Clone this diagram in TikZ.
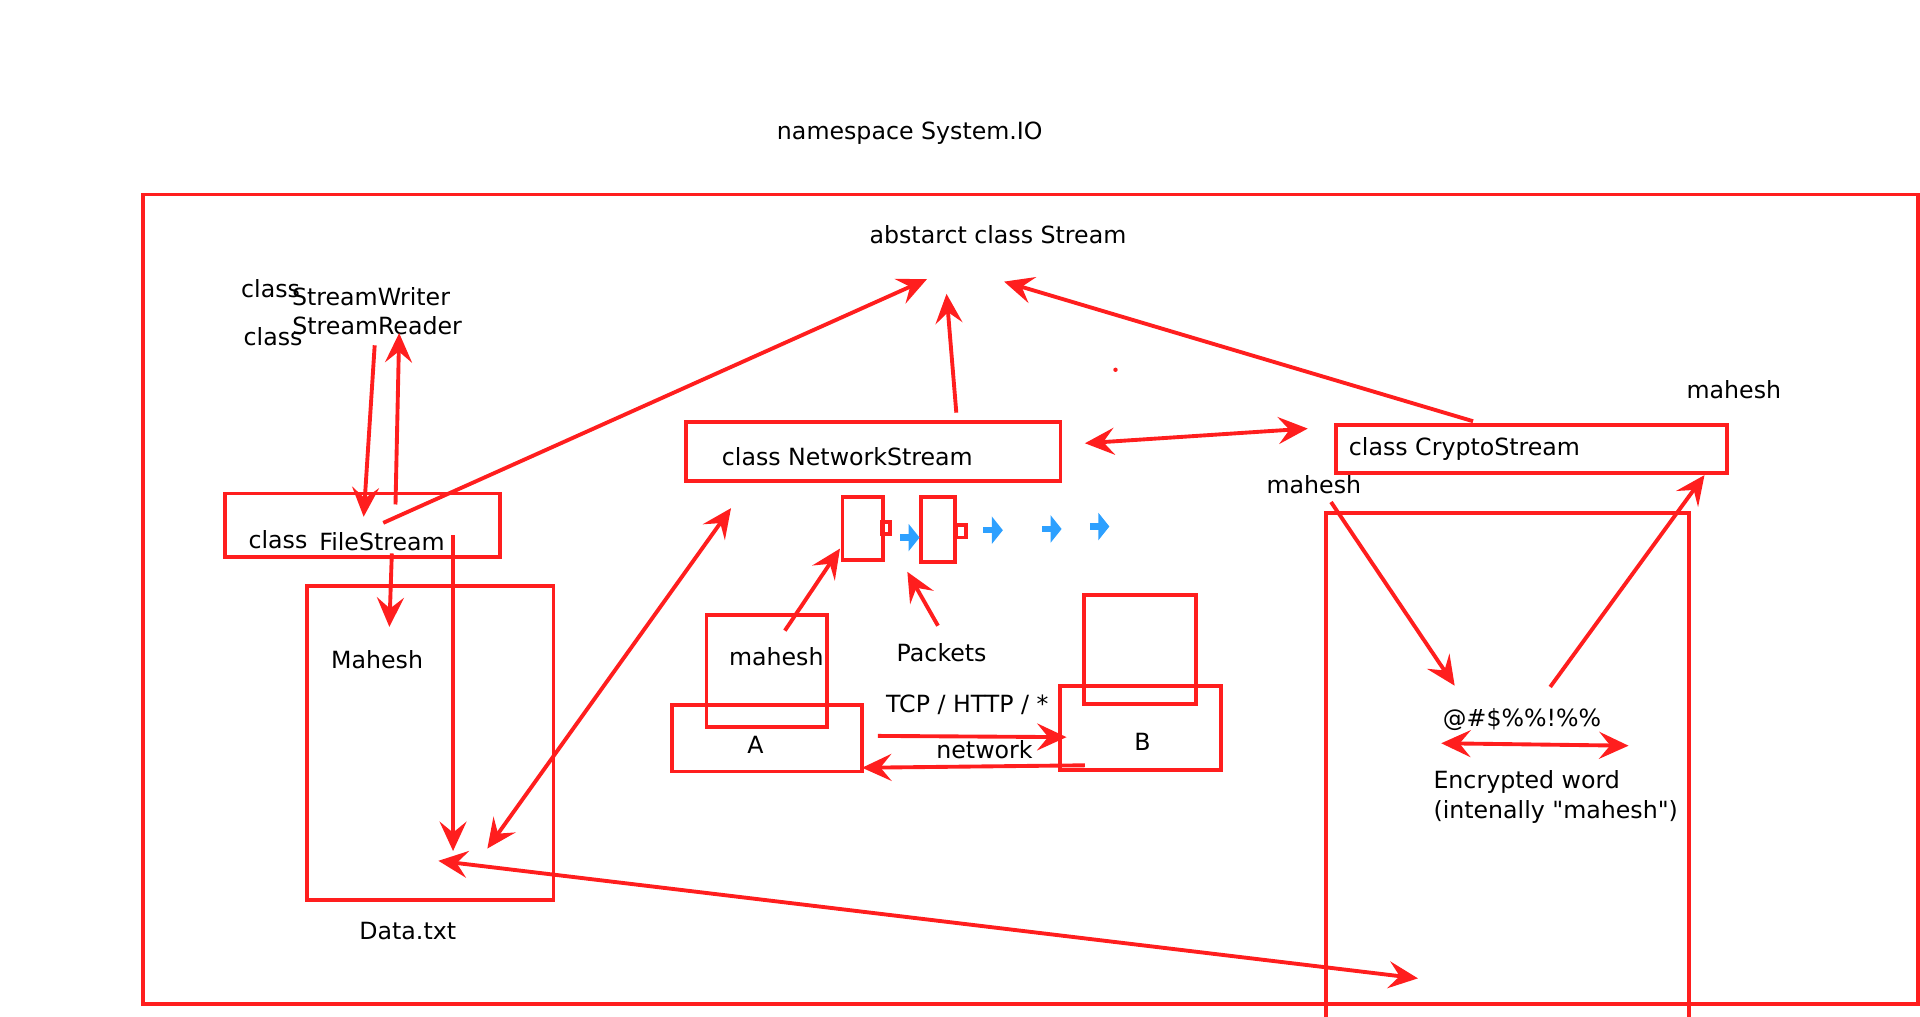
\documentclass[tikz,border=0pt]{standalone}
\usepackage{fontspec}
\setmainfont{DejaVu Sans}
\usepackage{xcolor}
\usepackage{tikz}
\usetikzlibrary{arrows.meta}
\definecolor{linered}{RGB}{255,30,30}
\definecolor{pktblue}{RGB}{45,160,255}

\begin{document}
\begin{tikzpicture}[x=0.01cm, y=-0.01cm,
        every node/.append style={font=\fontsize{5.5}{6.6}\selectfont, inner sep=0pt},
        box/.style args={#1 by #2}{draw=linered, line width=0.9pt, minimum width=#1cm, minimum height=#2cm},
        link/.style={draw=linered, line width=0.9pt, -{Stealth[length=2.4mm, width=2.2mm, inset=0.9mm]}},
        both/.style={link, {Stealth[length=2.4mm, width=2.2mm, inset=0.9mm]}-{Stealth[length=2.4mm, width=2.2mm, inset=0.9mm]}},
        pkt/.style={draw=pktblue, line width=1.5pt, -{Triangle[length=0.9mm, width=2.2mm]}}]
        \useasboundingbox (0,0) rectangle (1568,830.5);

        \node[box=14.49 by 6.61] (io) at (841.5,489.5) {};
        \node[box=2.24 by 0.52] (fs) at (296,429) {};
        \node[box=2.01 by 2.56] (data) at (351.5,607) {};
        \node[box=3.06 by 0.48] (net) at (713,369) {};
        \node[box=3.19 by 0.39] (crypto) at (1250.5,366.5) {};
        \node[box=2.96 by 4.81] (enc) at (1231,659.5) {};
        \node[box=0.33 by 0.51] (dev1) at (704.5,431.5) {};
        \node[box=0.07 by 0.10] (port1) at (723.5,431) {};
        \node[box=0.28 by 0.53] (dev2) at (766,432.5) {};
        \node[box=0.08 by 0.10] (port2) at (785,434) {};
        \node[box=0.98 by 0.92] (user) at (626,548) {};
        \node[box=1.55 by 0.54] (hostA) at (626.5,603) {};
        \node[box=1.31 by 0.69] (hostB) at (931.5,594.5) {};
        \node[box=0.92 by 0.89] (userB) at (931,530.5) {};

        \node (ns) at (743,109) {namespace System.IO};
        \node (stream) at (815,192) {abstarct class Stream};
        \node (c1) at (221,236) {class};
        \node (sw) at (303,242) {StreamWriter};
        \node (c2) at (223,275) {class};
        \node (sr) at (308,266) {StreamReader};
        \node (c3) at (227,441) {class};
        \node (fsname) at (312,442) {FileStream};
        \node (mahesh1) at (308,539) {Mahesh};
        \node (datatxt) at (333,760) {Data.txt};
        \node (netname) at (692,373) {class NetworkStream};
        \node (cryptoname) at (1196,367) {class CryptoStream};
        \node (mahesh2) at (1416,318) {mahesh};
        \node (mahesh3) at (1073,396) {mahesh};
        \node (cipher) at (1243,588) {@\#\$\%\%!\%\%};
        \node[anchor=west] (encw) at (1170,639) {Encrypted word};
        \node[anchor=west] (encn) at (1170,663) {(intenally \textquotedbl mahesh\textquotedbl)};
        \node (mahesh4) at (634,536) {mahesh};
        \node (A) at (617,608) {A};
        \node (B) at (933,606) {B};
        \node (packets) at (769,533) {Packets};
        \node (tcp) at (790,576) {TCP / HTTP / *};
        \node (network) at (804,612) {network};

        \coordinate (a1) at (306,282); \coordinate (a2) at (297,422);
        \coordinate (b1) at (323,412); \coordinate (b2) at (326,272);
        \coordinate (c1a) at (313,427); \coordinate (c1b) at (757,228);
        \coordinate (d1) at (320,452); \coordinate (d2) at (318,512);
        \coordinate (e1) at (370,437); \coordinate (e2) at (370,695);
        \coordinate (f1) at (597,415); \coordinate (f2) at (398,693);
        \coordinate (g1) at (781,337); \coordinate (g2) at (773,240);
        \coordinate (h1) at (886,362); \coordinate (h2) at (1068,350);
        \coordinate (i1) at (1203,344); \coordinate (i2) at (820,230);
        \coordinate (j1) at (1087,410); \coordinate (j2) at (1188,560);
        \coordinate (k1) at (1266,561); \coordinate (k2) at (1392,388);
        \coordinate (l1) at (1177,607); \coordinate (l2) at (1330,609);
        \coordinate (m1) at (641,515); \coordinate (m2) at (686,448);
        \coordinate (n1) at (766,511); \coordinate (n2) at (741,467);
        \coordinate (o1) at (717,601); \coordinate (o2) at (871,602);
        \coordinate (p1) at (886,625); \coordinate (p2) at (704,627);
        \coordinate (q1) at (358,703); \coordinate (q2) at (1158,799);

        \draw[link] (a1) -- (a2);
        \draw[link] (b1) -- (b2);
        \draw[link] (c1a) -- (c1b);
        \draw[link] (d1) -- (d2);
        \draw[link] (e1) -- (e2);
        \draw[both] (f1) -- (f2);
        \draw[link] (g1) -- (g2);
        \draw[both] (h1) -- (h2);
        \draw[link] (i1) -- (i2);
        \draw[link] (j1) -- (j2);
        \draw[link] (k1) -- (k2);
        \draw[both] (l1) -- (l2);
        \draw[link] (m1) -- (m2);
        \draw[link] (n1) -- (n2);
        \draw[link] (o1) -- (o2);
        \draw[link] (p1) -- (p2);
        \draw[both] (q1) -- (q2);

        \foreach \x/\y in {735/439, 803/433, 851/432, 890/430}
            \draw[pkt] (\x,\y) -- ++(16,0);
        \fill[linered] (911,302) circle (1.8);
    \end{tikzpicture}
\end{document}
